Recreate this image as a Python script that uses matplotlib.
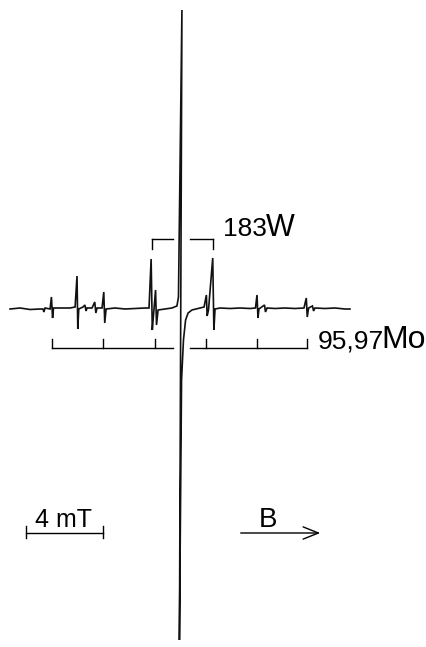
import matplotlib
matplotlib.use('Agg')
import matplotlib.pyplot as plt
from matplotlib.patches import FancyArrowPatch

plt.rcParams['font.family'] = ['Liberation Sans', 'DejaVu Sans']

# EPR trace: field offset (mT) and signal (arb. units)
field = [-8.83, -8.31, -7.79, -7.27, -7.12, -7.07, -7.01, -6.75,
         -6.68, -6.62, -6.57, -6.23, -5.71, -5.45,
         -5.35, -5.31, -5.26, -5.04, -4.94, -4.88, -4.83, -4.57,
         -4.43, -4.37, -4.31, -4.05, -3.96, -3.91, -3.84,
         -3.38, -2.86, -2.34, -1.82, -1.61,
         -1.50, -1.44, -1.38, -1.27, -1.22, -1.14, -0.78, -0.42, -0.16, -0.08,
         0.10, -0.03, 0.08, 0.18, 0.29, 0.42, 0.62,
         1.04, 1.25, 1.37, 1.41, 1.48, 1.70, 1.76, 1.82,
         2.08, 2.60, 3.12, 3.64, 3.92, 4.00, 4.05, 4.10,
         4.39, 4.44, 4.52, 4.94, 5.45, 5.97, 6.44,
         6.56, 6.61, 6.68, 6.88, 6.94, 7.01, 7.53, 8.05, 8.57, 8.83]
signal = [0, 1, -0.5, 0, 0, -3, 1, 0,
          12, -9, 1, 1, 1, 2,
          33, -20, 0, 2, 4, -2, 1, 1,
          7, -4, 1, 1, 17, -14, 0,
          1, 0, 0.5, 1, 1,
          50, -21, -7, 19, -16, -1, 0, 1, 3, 12,
          299, -331, -71, -31, -11, -4, -1,
          1, 2, 14, -7, -1, 51, -21, 0,
          1, 0.5, 1, 0.5, 1, 14, -9, 0,
          4, -3, 1, 0.5, 1, 0.5, 1,
          11, -8, 1, 3, -2, 1, 0.5, 1, 0, 0]

# hyperfine stick positions (mT)
mo_lines = [-6.65, -3.99, -1.30, 1.35, 4.00, 6.60]
w_lines = [-1.45, 1.71]
gap = (-0.36, 0.52)

fig = plt.figure(figsize=(4.27, 6.47), dpi=100)
ax = fig.add_axes([0, 0, 1, 1])
ax.set_xlim(-9.351, 12.831)
ax.set_ylim(-338, 309)
ax.axis('off')

ax.plot(field, signal, color='#111111', lw=1.2, solid_joinstyle='miter')

lw_b = 1.0
# 95,97Mo sextet bracket
mo_y = -39
ax.plot([mo_lines[0], gap[0]], [mo_y, mo_y], color='black', lw=lw_b)
ax.plot([gap[1], mo_lines[-1]], [mo_y, mo_y], color='black', lw=lw_b)
for m in mo_lines:
    ax.plot([m, m], [mo_y, mo_y + 9], color='black', lw=lw_b)

# 183W doublet bracket
w_y = 70
ax.plot([w_lines[0], gap[0]], [w_y, w_y], color='black', lw=lw_b)
ax.plot([gap[1], w_lines[1]], [w_y, w_y], color='black', lw=lw_b)
for m in w_lines:
    ax.plot([m, m], [w_y, w_y - 10], color='black', lw=lw_b)

ax.text(2.23, 73, '183', fontsize=19, ha='left', va='baseline')
ax.text(4.48, 73, 'W', fontsize=22, ha='left', va='baseline')
ax.text(7.17, -39, '95,97', fontsize=19, ha='left', va='baseline')
ax.text(10.45, -39, 'Mo', fontsize=23, ha='left', va='baseline')

# scale bar 4 mT
sb_y = -224
ax.plot([-8.0, -4.0], [sb_y, sb_y], color='black', lw=lw_b)
for s in (-8.0, -4.0):
    ax.plot([s, s], [sb_y + 7, sb_y - 5], color='black', lw=lw_b)
ax.text(-6.05, -218, '4 mT', fontsize=18, ha='center', va='baseline')

# field direction
arr = FancyArrowPatch((3.01, sb_y), (7.43, sb_y),
                      arrowstyle='->,head_length=0.55,head_width=0.22',
                      mutation_scale=20, color='black', lw=lw_b)
ax.add_patch(arr)
ax.text(4.57, -218, 'B', fontsize=20, ha='center', va='baseline')

fig.savefig('out.png', dpi=100)
